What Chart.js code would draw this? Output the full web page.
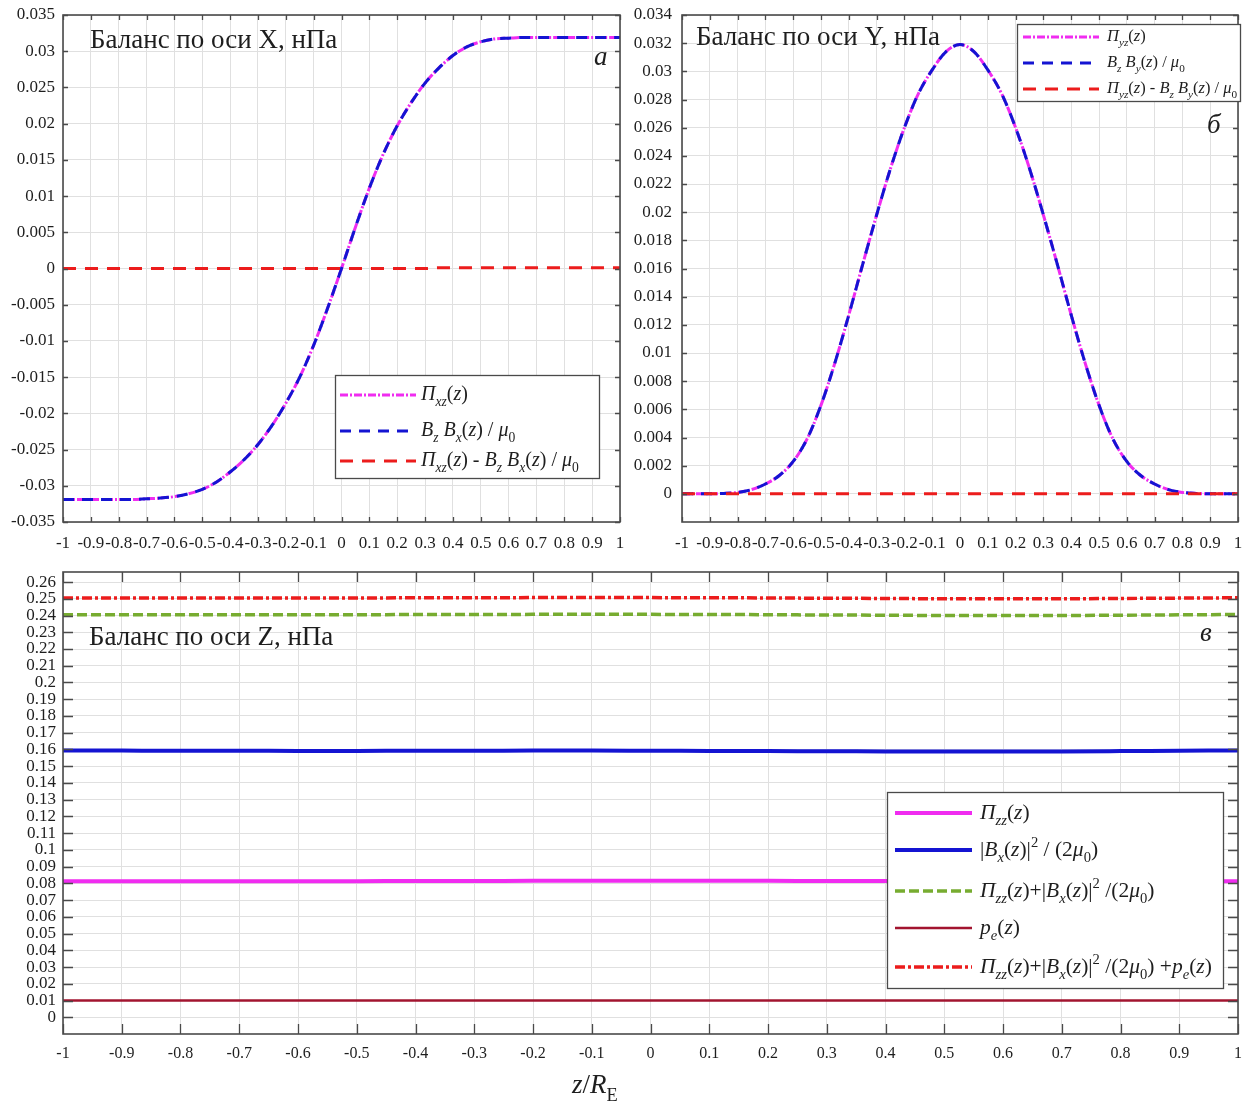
<!DOCTYPE html>
<html>
<head>
<meta charset="utf-8">
<script src="https://cdn.jsdelivr.net/npm/chart.js@4.4.1/dist/chart.umd.min.js"></script>
<style>
  html, body { margin: 0; padding: 0; background: #fff; }
  #wrap { position: relative; width: 1248px; height: 1104px; overflow: hidden; }
  canvas { position: absolute; }
  #cA { left: 0; top: 0; }
  #cB { left: 625px; top: 0; }
  #cC { left: 0; top: 560px; }
</style>
</head>
<body>
<div id="wrap">
  <canvas id="cA" width="625" height="560"></canvas>
  <canvas id="cB" width="623" height="560"></canvas>
  <canvas id="cC" width="1248" height="544"></canvas>
</div>
<script>
// ---- coordinates along the sheet, z / R_E ----
const zAB = [-1, -0.95, -0.9, -0.85, -0.8, -0.75, -0.7, -0.65, -0.6, -0.55, -0.5, -0.45, -0.4, -0.35, -0.3, -0.25, -0.2, -0.15, -0.1, -0.05,
  0, 0.05, 0.1, 0.15, 0.2, 0.25, 0.3, 0.35, 0.4, 0.45, 0.5, 0.55, 0.6, 0.65, 0.7, 0.75, 0.8, 0.85, 0.9, 0.95, 1];
const zC = [-1, -0.9, -0.8, -0.7, -0.6, -0.5, -0.4, -0.3, -0.2, -0.1, 0, 0.1, 0.2, 0.3, 0.4, 0.5, 0.6, 0.7, 0.8, 0.9, 1];

// ---- X balance, nPa ----
const piXZ = [-0.0319, -0.0319, -0.0319, -0.0319, -0.0319, -0.0319, -0.0318, -0.0317, -0.0315, -0.0311, -0.0305, -0.0295, -0.0281, -0.0264, -0.0243, -0.0217, -0.0186, -0.0150, -0.0106, -0.0055,
  0.0000, 0.0057, 0.0111, 0.0158, 0.0197, 0.0229, 0.0256, 0.0277, 0.0294, 0.0306, 0.0313, 0.0317, 0.0318, 0.0319, 0.0319, 0.0319, 0.0319, 0.0319, 0.0319, 0.0319, 0.0319];
const bzBx = [-0.0319, -0.0319, -0.0319, -0.0319, -0.0319, -0.0319, -0.0318, -0.0317, -0.0315, -0.0311, -0.0305, -0.0295, -0.0281, -0.0264, -0.0243, -0.0217, -0.0186, -0.0150, -0.0106, -0.0055,
  0.0000, 0.0057, 0.0111, 0.0158, 0.0197, 0.0229, 0.0256, 0.0277, 0.0294, 0.0306, 0.0313, 0.0317, 0.0318, 0.0319, 0.0319, 0.0319, 0.0319, 0.0319, 0.0319, 0.0319, 0.0319];
const diffX = [0, 0, 0, 0, 0, 0, 0, 0, 0, 0, 0, 0, 0, 0, 0, 0, 0, 0, 0, 0,
  0, 0, 0, 0, 0, 0, 0, 0.0001, 0.0001, 0.0001, 0.0001, 0.0001, 0.0001, 0.0001, 0.0001, 0.0001, 0.0001, 0.0001, 0.0001, 0.0001, 0.0001];

// ---- Y balance, nPa ----
const piYZ = [0, 0, 0, 0.00003, 0.0001, 0.0003, 0.0007, 0.0013, 0.0023, 0.0039, 0.0063, 0.0093, 0.0127, 0.0163, 0.0198, 0.0231, 0.0260, 0.0284, 0.0301, 0.0314,
  0.0319, 0.0314, 0.0301, 0.0284, 0.0260, 0.0231, 0.0198, 0.0163, 0.0127, 0.0093, 0.0063, 0.0039, 0.0023, 0.0013, 0.0007, 0.0003, 0.0001, 0.00003, 0, 0, 0];
const bzBy = [0, 0, 0, 0.00003, 0.0001, 0.0003, 0.0007, 0.0013, 0.0023, 0.0039, 0.0063, 0.0093, 0.0127, 0.0163, 0.0198, 0.0231, 0.0260, 0.0284, 0.0301, 0.0314,
  0.0319, 0.0314, 0.0301, 0.0284, 0.0260, 0.0231, 0.0198, 0.0163, 0.0127, 0.0093, 0.0063, 0.0039, 0.0023, 0.0013, 0.0007, 0.0003, 0.0001, 0.00003, 0, 0, 0];
const diffY = [0, 0, 0, 0, 0, 0, 0, 0, 0, 0, 0, 0, 0, 0, 0, 0, 0, 0, 0, 0,
  0, 0, 0, 0, 0, 0, 0, 0, 0, 0, 0, 0, 0, 0, 0, 0, 0, 0, 0, 0, 0];

// ---- Z balance, nPa ----
const piZZ = [0.0812, 0.0812, 0.0812, 0.0812, 0.0813, 0.0813, 0.0814, 0.0814, 0.0815, 0.0815, 0.0815, 0.0815, 0.0815, 0.0814, 0.0814, 0.0813, 0.0813, 0.0812, 0.0812, 0.0812, 0.0812];
const bx2 = [0.1594, 0.1593, 0.1592, 0.1592, 0.1591, 0.1591, 0.1592, 0.1592, 0.1593, 0.1593, 0.1592, 0.1591, 0.1590, 0.1589, 0.1588, 0.1587, 0.1587, 0.1588, 0.1590, 0.1592, 0.1594];
const piBx = [0.2404, 0.2404, 0.2404, 0.2405, 0.2404, 0.2404, 0.2406, 0.2406, 0.2407, 0.2408, 0.2407, 0.2406, 0.2405, 0.2403, 0.2402, 0.2400, 0.2400, 0.2400, 0.2402, 0.2404, 0.2406];
const pe = [0.01, 0.01, 0.01, 0.01, 0.01, 0.01, 0.01, 0.01, 0.01, 0.01, 0.01, 0.01, 0.01, 0.01, 0.01, 0.01, 0.01, 0.01, 0.01, 0.01, 0.01];
const total = [0.2504, 0.2504, 0.2504, 0.2505, 0.2504, 0.2504, 0.2506, 0.2506, 0.2507, 0.2508, 0.2507, 0.2506, 0.2505, 0.2503, 0.2502, 0.2500, 0.2500, 0.2500, 0.2502, 0.2504, 0.2506];

// ---- tick labels ----
const xTickLabels = ['-1', '-0.9', '-0.8', '-0.7', '-0.6', '-0.5', '-0.4', '-0.3', '-0.2', '-0.1', '0', '0.1', '0.2', '0.3', '0.4', '0.5', '0.6', '0.7', '0.8', '0.9', '1'];
const yTickLabelsA = ['-0.035', '-0.03', '-0.025', '-0.02', '-0.015', '-0.01', '-0.005', '0', '0.005', '0.01', '0.015', '0.02', '0.025', '0.03', '0.035'];
const yTickLabelsB = ['0', '0.002', '0.004', '0.006', '0.008', '0.01', '0.012', '0.014', '0.016', '0.018', '0.02', '0.022', '0.024', '0.026', '0.028', '0.03', '0.032', '0.034'];
const yTickLabelsC = ['0', '0.01', '0.02', '0.03', '0.04', '0.05', '0.06', '0.07', '0.08', '0.09', '0.1', '0.11', '0.12', '0.13', '0.14', '0.15', '0.16', '0.17', '0.18', '0.19', '0.2', '0.21', '0.22', '0.23', '0.24', '0.25', '0.26'];

// ---- legend and caption texts ----
const legendA = ['Π_{xz}(z)', 'B_{z} B_{x}(z) / μ_{0}', 'Π_{xz}(z) - B_{z} B_{x}(z) / μ_{0}'];
const legendB = ['Π_{yz}(z)', 'B_{z} B_{y}(z) / μ_{0}', 'Π_{yz}(z) - B_{z} B_{y}(z) / μ_{0}'];
const legendC = ['Π_{zz}(z)', '|B_{x}(z)|^{2} / (2μ_{0})', 'Π_{zz}(z)+|B_{x}(z)|^{2} /(2μ_{0})', 'p_{e}(z)', 'Π_{zz}(z)+|B_{x}(z)|^{2} /(2μ_{0}) +p_{e}(z)'];
const titleA = 'Баланс по оси X, нПа';
const titleB = 'Баланс по оси Y, нПа';
const titleC = 'Баланс по оси Z, нПа';

// ---- styling ----
const SERIF = '"Liberation Serif", "Times New Roman", serif';
const MAGENTA = '#f02cf0';
const BLUE = '#1414d2';
const RED = '#ec1c1c';
const GREEN = '#77ac30';
const BROWN = '#a2142f';
const GRID = '#e0e0e0';
const FRAME = '#4a4a4a';
const TEXT = '#1e1e1e';

const dashPi = [8, 2, 2, 2];
const dashB = [11, 8];
const dashRed = [13, 9];
const dashGreen = [10, 4];
const dashDotRed = [10, 3, 3, 3];

// split "a_{b}^{c}" markup into runs with a vertical level
function richRuns(src) {
  const out = [];
  let i = 0;
  while (i < src.length) {
    const c = src[i];
    if ((c === '_' || c === '^') && src[i + 1] === '{') {
      const end = src.indexOf('}', i);
      out.push({ text: src.slice(i + 2, end), level: c === '_' ? -1 : 1 });
      i = end + 1;
    } else {
      let j = i;
      while (j < src.length && !((src[j] === '_' || src[j] === '^') && src[j + 1] === '{')) j++;
      out.push({ text: src.slice(i, j), level: 0 });
      i = j;
    }
  }
  return out;
}

// letters in italic, digits and symbols upright; "=" at the start of a run forces upright
function drawRich(ctx, src, x, y, size) {
  ctx.textBaseline = 'alphabetic';
  ctx.textAlign = 'left';
  ctx.fillStyle = TEXT;
  for (const run of richRuns(src)) {
    const sz = run.level ? size * 0.68 : size;
    const dy = run.level < 0 ? size * 0.3 : (run.level > 0 ? -size * 0.42 : 0);
    let txt = run.text;
    let forceUp = false;
    if (txt[0] === '=') { forceUp = true; txt = txt.slice(1); }
    const parts = txt.match(/[A-Za-zΑ-Ωα-ω]+|[^A-Za-zΑ-Ωα-ω]+/g) || [];
    for (const p of parts) {
      const ital = !forceUp && /[A-Za-zΑ-Ωα-ω]/.test(p);
      ctx.font = (ital ? 'italic ' : '') + sz + 'px ' + SERIF;
      ctx.fillText(p, x, y + dy);
      x += ctx.measureText(p).width;
    }
  }
  return x;
}

// frame, inward tick marks, caption, panel letter and legend box
function makeDeco(cfg) {
  return {
    id: 'deco',
    afterDraw(chart) {
      const { ctx, chartArea: a, scales } = chart;
      ctx.save();
      ctx.setLineDash([]);
      ctx.strokeStyle = FRAME;
      ctx.lineWidth = 1.3;
      ctx.beginPath();
      scales.x.ticks.forEach(t => {
        const px = Math.round(scales.x.getPixelForValue(t.value)) + 0.5;
        ctx.moveTo(px, a.bottom); ctx.lineTo(px, a.bottom - cfg.tick);
        ctx.moveTo(px, a.top); ctx.lineTo(px, a.top + cfg.tick);
      });
      scales.y.ticks.forEach(t => {
        const py = Math.round(scales.y.getPixelForValue(t.value)) + 0.5;
        ctx.moveTo(a.left, py); ctx.lineTo(a.left + cfg.tick, py);
        ctx.moveTo(a.right, py); ctx.lineTo(a.right - cfg.tick, py);
      });
      ctx.stroke();
      ctx.lineWidth = 1.6;
      ctx.strokeRect(a.left, a.top, a.right - a.left, a.bottom - a.top);

      // caption
      ctx.fillStyle = TEXT;
      ctx.textAlign = 'left';
      ctx.textBaseline = 'alphabetic';
      ctx.font = cfg.titleSize + 'px ' + SERIF;
      ctx.fillText(cfg.title, cfg.titleX, cfg.titleY);
      // panel letter
      ctx.font = 'italic ' + cfg.letterSize + 'px ' + SERIF;
      ctx.fillText(cfg.letter, cfg.letterX, cfg.letterY);

      // legend
      const L = cfg.legend;
      ctx.fillStyle = '#ffffff';
      ctx.fillRect(L.x, L.y, L.w, L.h);
      ctx.strokeStyle = FRAME;
      ctx.lineWidth = 1.3;
      ctx.strokeRect(L.x + 0.5, L.y + 0.5, L.w, L.h);
      L.items.forEach((it, i) => {
        const ry = L.rows[i];
        ctx.save();
        ctx.strokeStyle = it.color;
        ctx.lineWidth = it.width;
        ctx.setLineDash(it.dash);
        ctx.beginPath();
        ctx.moveTo(L.sx0, ry);
        ctx.lineTo(L.sx1, ry);
        ctx.stroke();
        ctx.restore();
        drawRich(ctx, it.text, L.tx, ry + L.size * 0.27, L.size);
      });

      if (cfg.axisTitle) {
        drawRich(ctx, cfg.axisTitle.text, cfg.axisTitle.x, cfg.axisTitle.y, cfg.axisTitle.size);
      }
      ctx.restore();
    }
  };
}

function toPoints(xs, ys) { return xs.map((x, i) => ({ x, y: ys[i] })); }

function lineSet(xs, ys, color, width, dash, order) {
  return {
    data: toPoints(xs, ys),
    borderColor: color,
    borderWidth: width,
    borderDash: dash,
    pointRadius: 0,
    fill: false,
    cubicInterpolationMode: 'monotone',
    order: order
  };
}

function scalesFor(opt) {
  return {
    x: {
      type: 'linear', min: -1, max: 1,
      afterBuildTicks: s => { s.ticks = xTickLabels.map(t => ({ value: parseFloat(t) })); },
      afterFit: s => { s.height = opt.xh; s.paddingLeft = 0; s.paddingRight = 0; },
      grid: { color: GRID, lineWidth: 1, drawTicks: false },
      border: { display: false },
      ticks: {
        autoSkip: false, maxRotation: 0, minRotation: 0, padding: opt.xpad,
        color: TEXT, font: { family: SERIF, size: opt.xfont },
        callback: (v, i) => xTickLabels[i]
      }
    },
    y: {
      type: 'linear', min: opt.ymin, max: opt.ymax,
      afterBuildTicks: s => { s.ticks = opt.ylabels.map(t => ({ value: parseFloat(t) })); },
      afterFit: s => { s.width = opt.yw; s.paddingTop = 0; s.paddingBottom = 0; },
      grid: { color: GRID, lineWidth: 1, drawTicks: false },
      border: { display: false },
      ticks: {
        autoSkip: false, padding: opt.ypad,
        color: TEXT, font: { family: SERIF, size: opt.yfont },
        callback: (v, i) => opt.ylabels[i]
      }
    }
  };
}

const common = {
  responsive: false,
  animation: false,
  devicePixelRatio: 1,
  plugins: { legend: { display: false }, tooltip: { enabled: false } }
};

// panel a
new Chart(document.getElementById('cA'), {
  type: 'line',
  data: {
    datasets: [
      lineSet(zAB, piXZ, MAGENTA, 3, dashPi, 2),
      lineSet(zAB, bzBx, BLUE, 3, dashB, 1),
      lineSet(zAB, diffX, RED, 3, dashRed, 0)
    ]
  },
  options: Object.assign({}, common, {
    layout: { padding: { top: 15, right: 5, left: 0, bottom: 0 } },
    scales: scalesFor({ ymin: -0.035, ymax: 0.035, ylabels: yTickLabelsA, yw: 63, xh: 38, xpad: 11, ypad: 8, xfont: 17, yfont: 17 })
  }),
  plugins: [makeDeco({
    tick: 5, title: titleA, titleSize: 27, titleX: 90, titleY: 48,
    letter: 'а', letterSize: 27, letterX: 594, letterY: 65,
    legend: {
      x: 335, y: 375, w: 264, h: 103, rows: [395, 431, 461], sx0: 340, sx1: 416, tx: 421, size: 20,
      items: [
        { text: legendA[0], color: MAGENTA, width: 3, dash: dashPi },
        { text: legendA[1], color: BLUE, width: 3, dash: dashB },
        { text: legendA[2], color: RED, width: 3, dash: dashRed }
      ]
    }
  })]
});

// panel b
new Chart(document.getElementById('cB'), {
  type: 'line',
  data: {
    datasets: [
      lineSet(zAB, piYZ, MAGENTA, 3, dashPi, 2),
      lineSet(zAB, bzBy, BLUE, 3, dashB, 1),
      lineSet(zAB, diffY, RED, 3, dashRed, 0)
    ]
  },
  options: Object.assign({}, common, {
    layout: { padding: { top: 15, right: 10, left: 0, bottom: 0 } },
    scales: scalesFor({ ymin: -0.002, ymax: 0.034, ylabels: yTickLabelsB, yw: 57, xh: 38, xpad: 11, ypad: 10, xfont: 17, yfont: 17 })
  }),
  plugins: [makeDeco({
    tick: 5, title: titleB, titleSize: 27, titleX: 71, titleY: 45,
    letter: 'б', letterSize: 27, letterX: 582, letterY: 133,
    legend: {
      x: 392, y: 24, w: 223, h: 77, rows: [37, 63, 89], sx0: 398, sx1: 474, tx: 482, size: 16.5,
      items: [
        { text: legendB[0], color: MAGENTA, width: 3, dash: dashPi },
        { text: legendB[1], color: BLUE, width: 3, dash: dashB },
        { text: legendB[2], color: RED, width: 3, dash: dashRed }
      ]
    }
  })]
});

// panel c
new Chart(document.getElementById('cC'), {
  type: 'line',
  data: {
    datasets: [
      lineSet(zC, piZZ, MAGENTA, 4, [], 0),
      lineSet(zC, bx2, BLUE, 4, [], 0),
      lineSet(zC, piBx, GREEN, 3.5, dashGreen, 0),
      lineSet(zC, pe, BROWN, 2.5, [], 0),
      lineSet(zC, total, RED, 3.5, dashDotRed, 0)
    ]
  },
  options: Object.assign({}, common, {
    layout: { padding: { top: 12, right: 10, left: 0, bottom: 0 } },
    scales: scalesFor({ ymin: -0.01, ymax: 0.266, ylabels: yTickLabelsC, yw: 63, xh: 70, xpad: 10, ypad: 7, xfont: 16, yfont: 17 })
  }),
  plugins: [makeDeco({
    tick: 10, title: titleC, titleSize: 27, titleX: 89, titleY: 85,
    letter: 'в', letterSize: 27, letterX: 1200, letterY: 81,
    legend: {
      x: 887, y: 232, w: 336, h: 196, rows: [253, 290, 331, 368, 407], sx0: 895, sx1: 972, tx: 980, size: 21.5,
      items: [
        { text: legendC[0], color: MAGENTA, width: 4, dash: [] },
        { text: legendC[1], color: BLUE, width: 4, dash: [] },
        { text: legendC[2], color: GREEN, width: 3.5, dash: dashGreen },
        { text: legendC[3], color: BROWN, width: 2.5, dash: [] },
        { text: legendC[4], color: RED, width: 3.5, dash: dashDotRed }
      ]
    },
    axisTitle: { text: 'z/R_{=E}', x: 572, y: 533, size: 27 }
  })]
});
</script>
</body>
</html>
